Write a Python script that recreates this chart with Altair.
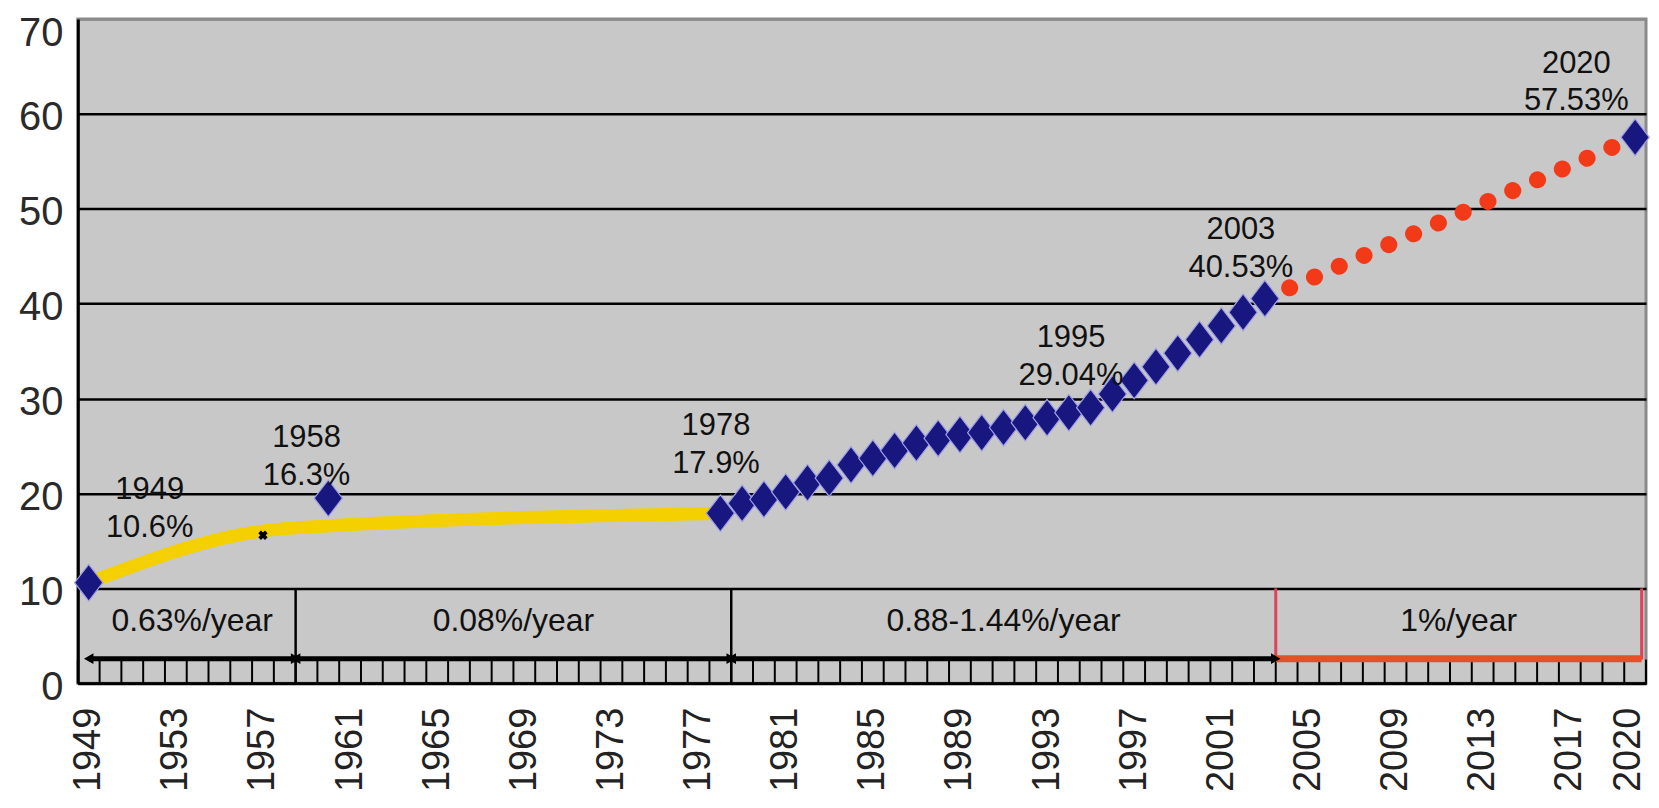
import altair as alt
import pandas as pd

# ---------------- data ----------------
all_years = list(range(1949, 2021))
x_label_years = [1949, 1953, 1957, 1961, 1965, 1969, 1973, 1977, 1981, 1985,
                 1989, 1993, 1997, 2001, 2005, 2009, 2013, 2017, 2020]
y_ticks = [0, 10, 20, 30, 40, 50, 60, 70]

yellow_years = [1949, 1958, 1978]
yellow_vals = [10.6, 16.3, 17.9]

diamond_years = [1949, 1960, 1978, 1979, 1980, 1981, 1982, 1983, 1984, 1985,
                 1986, 1987, 1988, 1989, 1990, 1991, 1992, 1993, 1994, 1995,
                 1996, 1997, 1998, 1999, 2000, 2001, 2002, 2003, 2020]
diamond_vals = [10.6, 19.5, 17.92, 18.96, 19.39, 20.16, 21.13, 21.62, 23.01, 23.71,
                24.52, 25.32, 25.81, 26.21, 26.41, 26.94, 27.46, 27.99, 28.51, 29.04,
                30.48, 31.91, 33.35, 34.78, 36.22, 37.66, 39.09, 40.53, 57.53]

cross_years = [1957]
cross_vals = [15.6]

proj_years = [2003, 2020]
proj_vals = [40.53, 57.53]

ann_labels = ["1949\n10.6%", "1958\n16.3%", "1978\n17.9%",
              "1995\n29.04%", "2003\n40.53%", "2020\n57.53%"]
ann_years = [1951.8, 1959.0, 1977.8, 1994.1, 2001.9, 2017.3]
ann_vals = [20.4, 25.8, 27.1, 36.4, 47.8, 65.3]

seg_start = [1949, 1958.5, 1978.5, 2003.5]
seg_end = [1958.5, 1978.5, 2003.5, 2020.3]
seg_labels = ["0.63%/year", "0.08%/year", "0.88-1.44%/year", "1%/year"]
seg_kind = ["past", "past", "past", "forecast"]

# ---------------- tables ----------------
df_yellow = pd.DataFrame({"year": yellow_years, "value": yellow_vals})
df_diam = pd.DataFrame({"year": diamond_years, "value": diamond_vals})
df_cross = pd.DataFrame({"year": cross_years, "value": cross_vals})
df_proj = pd.DataFrame({"year": proj_years, "value": proj_vals})
df_ann = pd.DataFrame({"year": ann_years, "value": ann_vals, "label": ann_labels})
df_seg = pd.DataFrame({"start": seg_start, "end": seg_end,
                       "label": seg_labels, "kind": seg_kind})
df_ticks = pd.DataFrame({"year": [y - 0.5 for y in all_years] + [all_years[-1] + 0.5]})

FONT = "Liberation Sans"

SX = alt.Scale(domain=[all_years[0] - 0.5, all_years[-1] + 0.5], nice=False, zero=False)
SY = alt.Scale(domain=[0, 70], nice=False, zero=True)

AX = alt.Axis(values=x_label_years, format="d", labelAngle=-90, labelFontSize=38,
              labelPadding=24, ticks=False, grid=False, domainColor="black",
              domainWidth=3, labelColor="#222222", labelFont=FONT, title=None,
              labelOverlap=False, labelFlush=False,
              labelOffset=alt.condition("datum.value === 2020", alt.value(-7), alt.value(0)))
AY = alt.Axis(values=y_ticks, labelFontSize=40, labelPadding=15, ticks=False,
              grid=True,
              gridColor=alt.condition("datum.value === 70", alt.value("#8a8a8a"), alt.value("black")),
              gridWidth=2.5, gridOpacity=1, domainColor="black", domainWidth=3,
              labelColor="#2a2a2a", labelFont=FONT, title=None,
              labelOffset=alt.condition("datum.value === 70", alt.value(15), alt.value(4)))


def xf(field):
    return alt.X(field, type="quantitative", scale=SX, axis=AX)


def yf(field):
    return alt.Y(field, type="quantitative", scale=SY, axis=AY)


def yd(v):
    return alt.YDatum(v, scale=SY, axis=AY)


# bottom band tick marks (category boundaries)
ticks = alt.Chart(df_ticks).mark_rule(color="black", strokeWidth=2).encode(
    x=xf("year"), y=yd(0), y2=alt.Y2Datum(2.5))

# dividers
seg = alt.Chart(df_seg)
div_black = seg.transform_filter("datum.kind === 'past' && datum.start > 1949").mark_rule(
    color="black", strokeWidth=2.5).encode(x=xf("start"), y=yd(0), y2=alt.Y2Datum(10))
div_red1 = seg.transform_filter("datum.kind === 'forecast'").mark_rule(
    color="#e0405a", strokeWidth=3).encode(x=xf("start"), y=yd(2.5), y2=alt.Y2Datum(10))
div_red2 = seg.transform_filter("datum.kind === 'forecast'").mark_rule(
    color="#e0405a", strokeWidth=3).encode(x=xf("end"), y=yd(2.5), y2=alt.Y2Datum(10))

# arrows
arrow_black = seg.transform_filter("datum.kind === 'past'").mark_rule(
    color="black", strokeWidth=5).encode(x=xf("start"), x2="end", y=yd(2.6))
arrow_red = seg.transform_filter("datum.kind === 'forecast'").mark_rule(
    color="#e4502c", strokeWidth=7).encode(x=xf("start"), x2="end", y=yd(2.6))
head_l = seg.transform_filter("datum.kind === 'past'").mark_point(
    shape="triangle-left", filled=True, color="black", size=120, opacity=1).encode(
    x=xf("start"), y=yd(2.6))
head_r = seg.transform_filter("datum.kind === 'past'").mark_point(
    shape="triangle-right", filled=True, color="black", size=120, opacity=1).encode(
    x=xf("end"), y=yd(2.6))

seg_text = seg.transform_calculate(mid="(datum.start + datum.end) / 2").mark_text(
    fontSize=32, font=FONT, color="#111111", align="center", baseline="middle").encode(
    x=xf("mid"), y=yd(6.6), text="label:N")

# series
yellow = alt.Chart(df_yellow).mark_line(
    color="#f4d000", strokeWidth=13, interpolate="monotone", strokeCap="round").encode(
    x=xf("year"), y=yf("value"))

cross = alt.Chart(df_cross).mark_point(
    shape="cross", angle=45, filled=True, color="black", size=90, opacity=1).encode(
    x=xf("year"), y=yf("value"))

proj = alt.Chart(df_proj).mark_line(
    color="#f23a18", strokeWidth=17, strokeDash=[0.1, 27], strokeCap="round").encode(
    x=xf("year"), y=yf("value"))

diamonds = alt.Chart(df_diam).mark_point(
    shape="M0,-1.3L1,0L0,1.3L-1,0Z", filled=True, fill="#17177f", stroke="#a0a0e6",
    strokeWidth=1.2, size=800, opacity=1).encode(
    x=xf("year"), y=yf("value"))

ann = alt.Chart(df_ann).mark_text(
    lineBreak="\n", lineHeight=38, fontSize=31, font=FONT, color="#111111",
    align="center", baseline="middle").encode(
    x=xf("year"), y=yf("value"), text="label:N")

chart = alt.layer(
    ticks, div_black, div_red1, div_red2, arrow_black, arrow_red, head_l, head_r,
    seg_text, yellow, cross, proj, diamonds, ann
).properties(
    width=1572, height=666,
    autosize=alt.AutoSizeParams(type="none"),
    padding={"left": 70, "top": 10, "right": 5, "bottom": 112},
    background="white",
).configure_view(
    fill="#c8c8c8", stroke="#8a8a8a", strokeWidth=3
)

chart.save("out.html", embed_options={"renderer": "svg", "actions": False})
